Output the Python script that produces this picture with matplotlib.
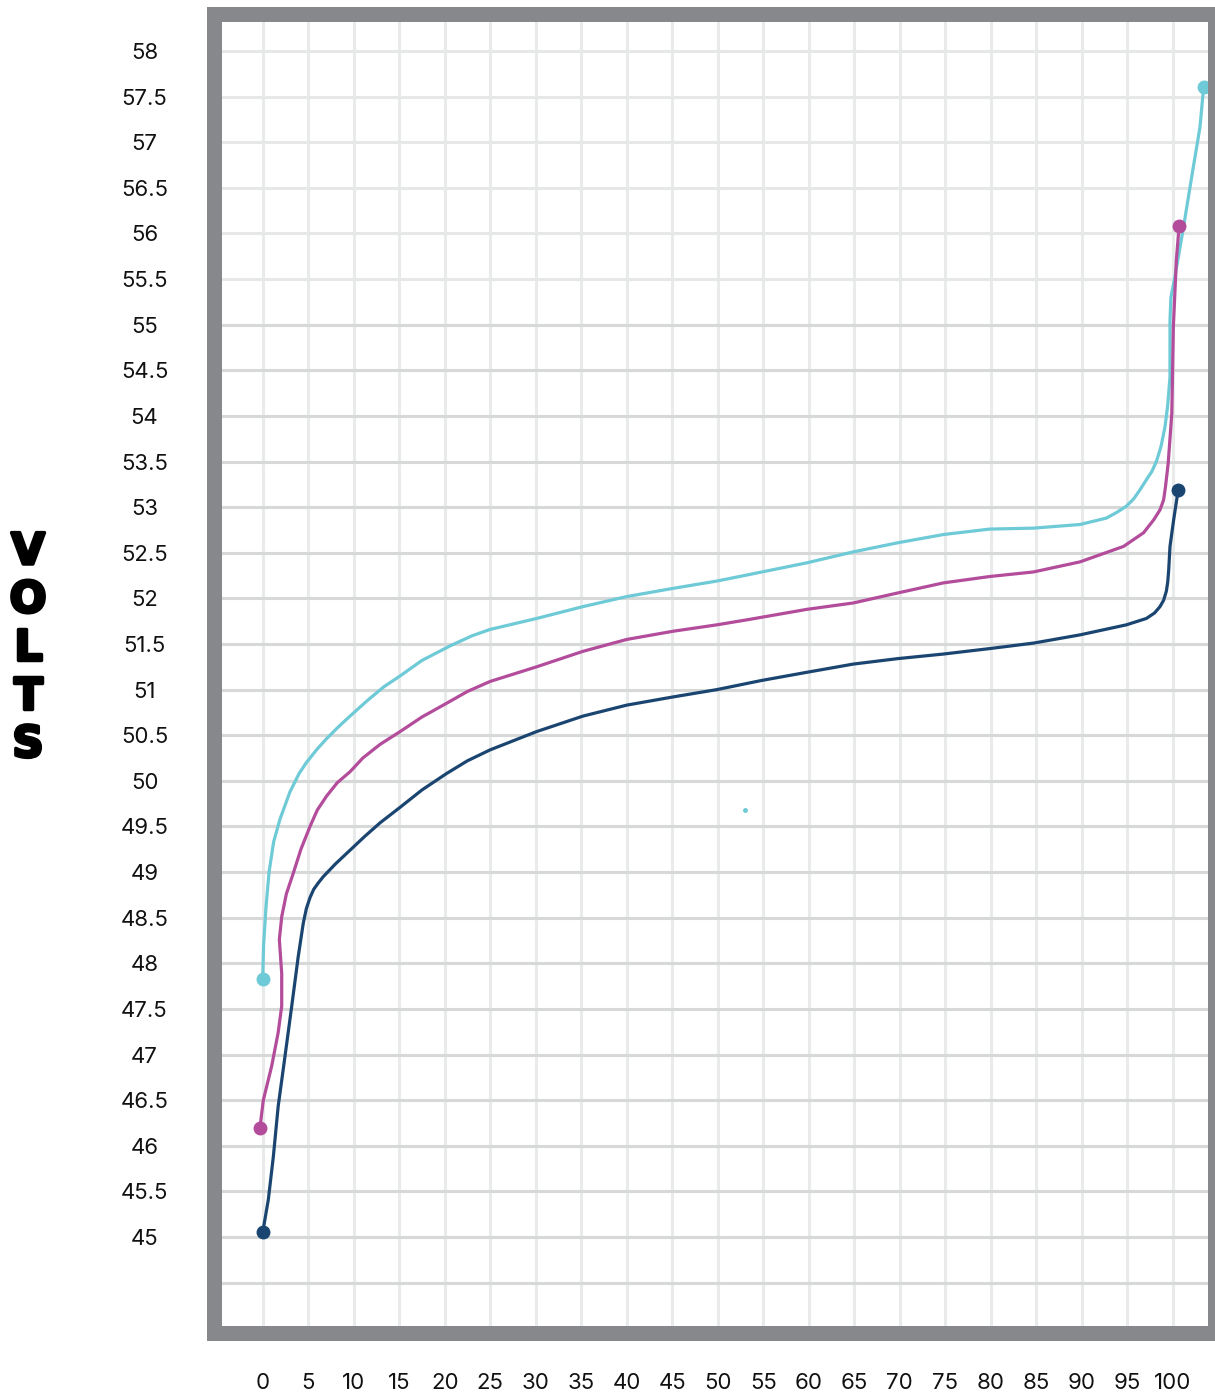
import matplotlib
matplotlib.use("Agg")
import matplotlib.pyplot as plt
import matplotlib.patheffects as pe

plt.rcParams['font.family'] = ['Inter', 'DejaVu Sans']

# state of charge (%) vs volts
cyan_x = [0, 0.1, 0.35, 0.7, 1.2, 1.9, 3.0, 4.0, 4.8, 6.0, 7.0, 8.3, 9.6, 11.5, 13.3, 15.1,
          17.5, 20.6, 23, 25, 30.1, 35.2, 40, 45.1, 49.9, 52.4, 59.8, 64.9, 69.8, 74.8,
          79.9, 84.7, 89.8, 92.7, 93.8, 94.9, 95.7, 96.4, 97.1, 97.7, 98.2, 98.7, 99.15,
          99.45, 99.7, 99.7, 99.8, 100.25, 101.2, 102.1, 103.0, 103.4]
cyan_y = [47.83, 48.2, 48.6, 49.0, 49.33, 49.58, 49.88, 50.08, 50.2, 50.35, 50.46, 50.59,
          50.71, 50.88, 51.03, 51.15, 51.32, 51.48, 51.59, 51.66, 51.78, 51.91, 52.02, 52.11,
          52.19, 52.24, 52.39, 52.51, 52.61, 52.70, 52.76, 52.77, 52.81, 52.88, 52.94, 53.01,
          53.09, 53.19, 53.30, 53.39, 53.5, 53.66, 53.88, 54.12, 54.43, 55.05, 55.3, 55.53,
          56.08, 56.63, 57.17, 57.61]

magenta_x = [-0.3, 0.07, 0.98, 1.7, 2.09, 2.09, 1.83, 2.09, 2.6, 3.37, 4.2, 5.2, 6.0, 7.0,
             8.2, 9.6, 11.0, 12.9, 15.1, 17.5, 20.2, 22.5, 25, 30.1, 35.2, 40, 45.1, 49.9,
             53.5, 59.8, 64.9, 69.8, 74.8, 79.9, 84.7, 89.8, 94.6, 96.8, 97.9, 98.6, 99.0,
             99.2, 99.5, 99.9, 100.07, 100.4, 100.7]
magenta_y = [46.2, 46.5, 46.87, 47.24, 47.53, 47.89, 48.26, 48.51, 48.76, 48.99, 49.25, 49.5,
             49.68, 49.83, 49.98, 50.10, 50.25, 50.40, 50.54, 50.70, 50.85, 50.98, 51.09,
             51.25, 51.42, 51.55, 51.64, 51.71, 51.77, 51.88, 51.95, 52.06, 52.17, 52.24,
             52.29, 52.40, 52.57, 52.72, 52.86, 52.97, 53.08, 53.22, 53.48, 54.03, 54.98,
             55.71, 56.08]

navy_x = [0, 0.62, 1.17, 1.7, 2.45, 3.19, 3.9, 4.46, 4.8, 5.2, 5.6, 6.1, 6.66, 8.0, 9.6,
          11.2, 12.9, 15.1, 17.5, 20.2, 22.5, 25, 30.1, 35.2, 40, 45.1, 49.9, 54.8, 59.8,
          64.9, 69.8, 74.8, 79.9, 84.7, 89.8, 94.9, 97.1, 98.0, 98.6, 99.0, 99.3, 99.45,
          99.55, 99.7, 100.1, 100.6]
navy_y = [45.05, 45.41, 45.88, 46.43, 46.98, 47.53, 48.07, 48.44, 48.6, 48.72, 48.81, 48.88,
          48.95, 49.09, 49.24, 49.39, 49.54, 49.71, 49.9, 50.08, 50.22, 50.34, 50.54, 50.71,
          50.83, 50.92, 51.0, 51.1, 51.19, 51.28, 51.34, 51.39, 51.45, 51.51, 51.60, 51.71,
          51.78, 51.84, 51.91, 51.98, 52.08, 52.18, 52.3, 52.57, 52.86, 53.19]

stray_x = [53.0]
stray_y = [49.68]

x_ticks = list(range(0, 101, 5))
y_ticks = [45 + 0.5 * i for i in range(27)]

colors = {'cyan': '#6dcad6', 'magenta': '#b24c9b', 'navy': '#1b4571'}
frame = '#87888c'

fig = plt.figure(figsize=(12.15, 13.93), dpi=100)
ax = fig.add_axes([214 / 1215, 1 - 1332.5 / 1393, 1000.5 / 1215, 1318.5 / 1393])
ax.set_xlim(-5.35, 104.59)
ax.set_ylim(43.953, 58.406)

# grid
for v in x_ticks:
    ax.axvline(v, color='#e9ebeb', lw=2.2, zorder=1)
for h in [44.5 + 0.5 * i for i in range(28)]:
    ax.axhline(h, color='#e6e7e7' if h > 55 else '#d7d8d8', lw=2.2, zorder=1.1)

for xs, ys, c in [(cyan_x, cyan_y, colors['cyan']),
                  (magenta_x, magenta_y, colors['magenta']),
                  (navy_x, navy_y, colors['navy'])]:
    ax.plot(xs, ys, color=c, lw=2.3, solid_joinstyle='round', solid_capstyle='round', zorder=3)
    ax.plot([xs[0], xs[-1]], [ys[0], ys[-1]], 'o', color=c, ms=9, zorder=4)

ax.plot(stray_x, stray_y, 'o', color=colors['cyan'], ms=2.5, zorder=3)

for s in ax.spines.values():
    s.set_color(frame)
    s.set_linewidth(10.8)
    s.set_capstyle('projecting')
    s.set_zorder(5)

ax.set_xticks(x_ticks)
ax.set_xticklabels([str(v) for v in x_ticks])
ax.set_yticks(y_ticks)
ax.set_yticklabels(['%g' % v for v in y_ticks])
ax.tick_params(axis='x', length=0, pad=29, labelsize=16, colors='#111111')
ax.tick_params(axis='y', length=0, pad=50, labelsize=16, colors='#111111')
for lab in ax.get_yticklabels():
    lab.set_ha('center')

for i, ch in enumerate('VOLTS'):
    fig.text(28 / 1215, 1 - (552 + 48.2 * i) / 1393, ch, ha='center', va='center',
             fontsize=31, fontweight='bold', family='DejaVu Sans', color='#000000',
             path_effects=[pe.withStroke(linewidth=2.5, foreground='#000000')])

fig.savefig('out.png', dpi=100)
